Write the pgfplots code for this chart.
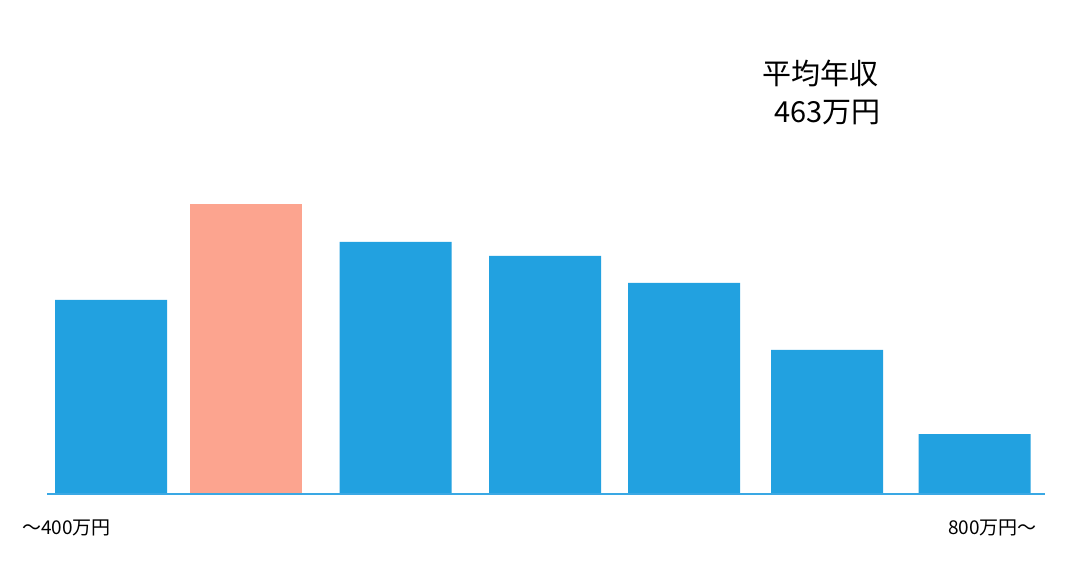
\documentclass[border=0pt]{standalone}
\usepackage{pgfplots}
\pgfplotsset{compat=1.18}
\usepackage{fontspec}
\setmainfont{Noto Sans CJK JP}
\definecolor{barblue}{HTML}{22A1E0}
\definecolor{barsalmon}{HTML}{FCA48F}
\definecolor{lineblue}{HTML}{3AA8E4}

\begin{document}
\begin{tikzpicture}
    \begin{axis}[
        scale only axis,
        width=1069bp, height=561bp,
        xmin=0, xmax=1069,
        ymin=-67, ymax=494,
        hide axis,
        clip=false,
        ybar, bar width=112,
    ]
        \path[fill=white] (rel axis cs:0,0) rectangle (rel axis cs:1,1);

        % salary bands, pixel heights above the baseline
        \addplot[fill=barblue, draw=none, bar shift=0pt] coordinates {
            (111,194) (395.5,252) (545,238) (684,211) (827,144) (974.5,60)
        };
        \addplot[fill=barsalmon, draw=none, bar shift=0pt] coordinates {
            (246,290)
        };

        \draw[lineblue, line width=2.4bp] (axis cs:47,0) -- (axis cs:1045,0);

        \node[anchor=west, font=\fontsize{19bp}{22bp}\selectfont, inner sep=0pt]
            at (axis cs:22,-34) {〜400万円};
        \node[anchor=east, font=\fontsize{19bp}{22bp}\selectfont, inner sep=0pt]
            at (axis cs:1037,-34) {800万円〜};
        \node[anchor=west, font=\fontsize{29bp}{32bp}\selectfont, inner sep=0pt]
            at (axis cs:762,421) {平均年収};
        \node[anchor=east, font=\fontsize{29bp}{32bp}\selectfont, inner sep=0pt]
            at (axis cs:881,381) {463万円};
    \end{axis}
\end{tikzpicture}
\end{document}
